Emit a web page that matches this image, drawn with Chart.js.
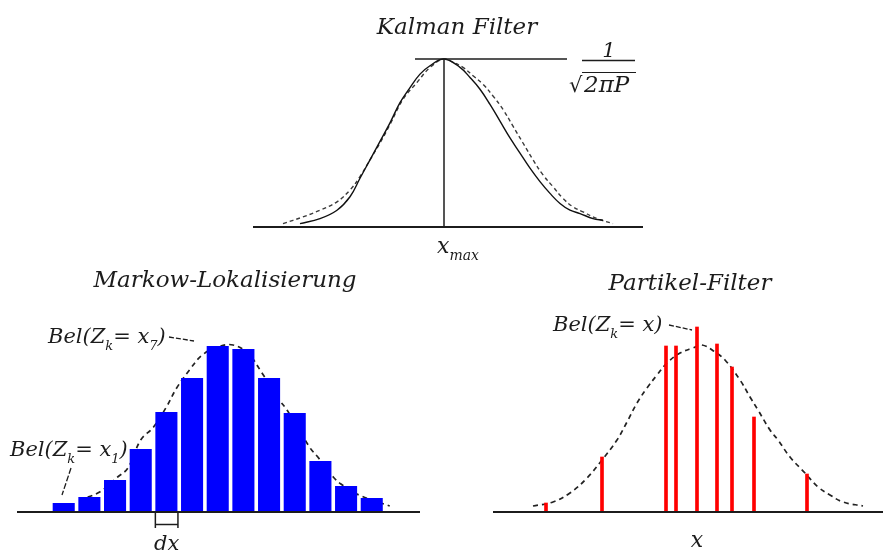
<!DOCTYPE html>
<html>
<head>
<meta charset="utf-8">
<script src="https://cdn.jsdelivr.net/npm/chart.js@4.4.1/dist/chart.umd.min.js"></script>
<style>
  html, body { margin: 0; padding: 0; background: #fff; }
  #wrap { position: relative; width: 883px; height: 557px; }
  #wrap canvas { position: absolute; left: 0; top: 0; }
</style>
</head>
<body>
<div id="wrap">
  <canvas id="kalman" width="883" height="557"></canvas>
  <canvas id="markow" width="883" height="557"></canvas>
  <canvas id="partikel" width="883" height="557"></canvas>
</div>
<script>
// Kalman filter: x around x_max, y relative to the peak 1/sqrt(2 pi P)
const kalmanSolidX = [-14.4, -12.4, -10.7, -9.4, -8.4, -7.4, -6.4, -5.4, -4.4, -3.4, -2.4, -1.4, 0, 1.6, 2.6, 3.6, 4.6, 5.6, 6.6, 7.6, 8.6, 9.6, 10.6, 11.6, 12.6, 13.6, 14.9, 15.9];
const kalmanSolidY = [0.02, 0.05, 0.10, 0.18, 0.29, 0.40, 0.51, 0.62, 0.74, 0.83, 0.91, 0.96, 1.0, 0.95, 0.89, 0.82, 0.73, 0.63, 0.53, 0.44, 0.35, 0.27, 0.20, 0.14, 0.10, 0.08, 0.05, 0.04];
const kalmanDashX = [-16.1, -14.1, -12.4, -10.7, -9.4, -8.4, -7.4, -6.4, -5.4, -4.1, -2.7, -1.4, 0, 0.9, 1.9, 2.9, 3.9, 4.9, 5.9, 6.9, 7.9, 8.9, 9.9, 10.9, 11.9, 12.9, 13.9, 15.3, 16.9];
const kalmanDashY = [0.02, 0.06, 0.10, 0.15, 0.22, 0.30, 0.40, 0.50, 0.61, 0.76, 0.86, 0.95, 1.0, 0.98, 0.95, 0.90, 0.85, 0.78, 0.70, 0.60, 0.50, 0.40, 0.31, 0.24, 0.17, 0.12, 0.09, 0.05, 0.02];

// Markow-Lokalisierung: grid cells x1..x13, belief in %
const markowCells = [1, 2, 3, 4, 5, 6, 7, 8, 9, 10, 11, 12, 13];
const markowBel = [0.9, 1.5, 3.2, 6.3, 10.0, 13.4, 16.6, 16.3, 13.4, 9.9, 5.1, 2.6, 1.4];
const markowCurveX = [1.6, 2.4, 3.1, 3.5, 4.0, 4.5, 5.0, 5.4, 5.9, 6.4, 7.0, 7.6, 8.2, 8.7, 9.4, 9.7, 10.6, 10.9, 11.5, 11.8, 12.5, 13.7];
const markowCurveY = [1.2, 2.0, 3.5, 4.4, 7.2, 8.5, 10.5, 12.4, 14.2, 15.7, 16.5, 16.7, 15.8, 14.0, 11.2, 10.2, 6.4, 5.5, 3.5, 2.8, 1.7, 0.6];

// Partikel-Filter: particle positions and weights
const particleX = [-15.1, -9.5, -3.1, -2.1, 0, 2.0, 3.5, 5.7, 11.0];
const particleW = [0.9, 5.5, 16.6, 16.6, 18.5, 16.8, 14.5, 9.5, 3.8];
const partCurveX = [-16.4, -14.4, -12.7, -11.0, -9.5, -8.0, -7.0, -6.0, -5.0, -4.0, -3.0, -1.7, -0.4, 0.5, 1.8, 2.8, 4.3, 5.3, 6.1, 7.3, 8.1, 9.3, 10.8, 12.1, 13.3, 14.6, 16.6];
const partCurveY = [0.6, 1.0, 1.9, 3.4, 5.2, 7.2, 9.0, 10.9, 12.4, 13.7, 14.9, 15.9, 16.4, 16.7, 16.0, 15.2, 13.2, 11.5, 10.2, 8.2, 7.2, 5.5, 3.9, 2.5, 1.7, 1.0, 0.6];

const pts = (xs, ys) => xs.map((x, i) => ({ x: x, y: ys[i] }));
const FONT = '"DejaVu Serif", serif';
const INK = '#1c1c1c';

function seg(ctx, x1, y1, x2, y2, w, dash) {
  ctx.save();
  ctx.strokeStyle = INK;
  ctx.lineWidth = w;
  ctx.setLineDash(dash || []);
  ctx.beginPath();
  ctx.moveTo(x1, y1);
  ctx.lineTo(x2, y2);
  ctx.stroke();
  ctx.restore();
}

function baseline(chart) {
  const { ctx, chartArea, scales } = chart;
  const py = scales.y.getPixelForValue(0);
  seg(ctx, chartArea.left, py, chartArea.right, py, 2);
}

// text with subscripts: parts = [[text, isSub], ...]
function rich(ctx, parts, x, y, size, align) {
  ctx.save();
  ctx.fillStyle = INK;
  ctx.textBaseline = 'alphabetic';
  ctx.textAlign = 'left';
  let total = 0;
  for (const p of parts) {
    ctx.font = 'italic ' + (p[1] ? Math.round(size * 0.62) : size) + 'px ' + FONT;
    total += ctx.measureText(p[0]).width;
  }
  let cx = align === 'center' ? x - total / 2 : x;
  for (const p of parts) {
    ctx.font = 'italic ' + (p[1] ? Math.round(size * 0.62) : size) + 'px ' + FONT;
    ctx.fillText(p[0], cx, y + (p[1] ? size * 0.33 : 0));
    cx += ctx.measureText(p[0]).width;
  }
  ctx.restore();
}

const hidden = { display: false };

// ---------- Kalman Filter ----------
new Chart(document.getElementById('kalman'), {
  type: 'line',
  data: {
    datasets: [
      {
        data: pts(kalmanSolidX, kalmanSolidY),
        borderColor: '#111',
        borderWidth: 1.4,
        pointRadius: 0,
        tension: 0.4
      },
      {
        data: pts(kalmanDashX, kalmanDashY),
        borderColor: '#3a3a3a',
        borderWidth: 1.4,
        borderDash: [4, 3],
        pointRadius: 0,
        tension: 0.4
      }
    ]
  },
  options: {
    responsive: false,
    animation: false,
    layout: { padding: { left: 253, right: 240, top: 42.2, bottom: 330 } },
    scales: {
      x: { type: 'linear', min: -19.1, max: 19.9, display: false },
      y: { min: 0, max: 1.1, display: false }
    },
    plugins: { legend: hidden, tooltip: { enabled: false } }
  },
  plugins: [{
    id: 'kalmanDeco',
    afterDatasetsDraw(chart) {
      const { ctx, scales: { x, y } } = chart;
      baseline(chart);
      const x0 = x.getPixelForValue(0);
      const yTop = y.getPixelForValue(1);
      seg(ctx, x0, y.getPixelForValue(0), x0, yTop, 1.5);
      seg(ctx, x.getPixelForValue(-2.9), yTop, x.getPixelForValue(12.3), yTop, 1.5);

      rich(ctx, [['Kalman Filter', false]], x0 + 13, 34, 23, 'center');
      rich(ctx, [['x', false], ['max', true]], x0 - 7, 253, 22, 'left');

      // 1 / sqrt(2 pi P)
      ctx.save();
      ctx.fillStyle = INK;
      ctx.textAlign = 'center';
      ctx.font = 'italic 21px ' + FONT;
      ctx.fillText('1', 609, 57);
      ctx.restore();
      seg(ctx, 582, 60.5, 635, 60.5, 1.5);
      ctx.save();
      ctx.fillStyle = INK;
      ctx.font = '21px ' + FONT;
      ctx.fillText('\u221A', 569, 92);
      ctx.font = 'italic 23px ' + FONT;
      ctx.fillText('2\u03C0P', 584, 92);
      ctx.restore();
      seg(ctx, 582, 72.5, 636, 72.5, 1.2);
    }
  }]
});

// ---------- Markow-Lokalisierung ----------
new Chart(document.getElementById('markow'), {
  type: 'bar',
  data: {
    datasets: [
      {
        type: 'bar',
        data: pts(markowCells, markowBel),
        backgroundColor: '#0000ff',
        borderWidth: 0,
        barPercentage: 0.86,
        categoryPercentage: 1.0
      },
      {
        type: 'line',
        data: pts(markowCurveX, markowCurveY),
        borderColor: '#222',
        borderWidth: 1.7,
        borderDash: [5, 4],
        pointRadius: 0,
        tension: 0.4
      }
    ]
  },
  options: {
    responsive: false,
    animation: false,
    layout: { padding: { left: 17, right: 463, top: 312, bottom: 45 } },
    scales: {
      x: { type: 'linear', offset: false, min: -0.82, max: 14.88, display: false },
      y: { min: 0, max: 20, display: false }
    },
    plugins: { legend: hidden, tooltip: { enabled: false } }
  },
  plugins: [{
    id: 'markowDeco',
    afterDatasetsDraw(chart) {
      const { ctx, scales: { x, y } } = chart;
      baseline(chart);
      const y0 = y.getPixelForValue(0);

      // dx bracket under cell 5
      const l = x.getPixelForValue(5 - 0.43), r = x.getPixelForValue(5 + 0.45);
      seg(ctx, l, y0, l, y0 + 16, 1.5);
      seg(ctx, r, y0, r, y0 + 16, 1.5);
      seg(ctx, l, y0 + 12.5, r, y0 + 12.5, 1.5);
      rich(ctx, [['dx', false]], (l + r) / 2, 550, 21, 'center');

      rich(ctx, [['Markow-Lokalisierung', false]], 225, 287, 23, 'center');

      rich(ctx, [['Bel(Z', false], ['k', true], ['= x', false], ['7', true], [')', false]], 48, 343, 21, 'left');
      seg(ctx, 169, 337, 194, 341, 1.3, [5, 2]);

      rich(ctx, [['Bel(Z', false], ['k', true], ['= x', false], ['1', true], [')', false]], 10, 456, 21, 'left');
      seg(ctx, 71, 468, 62, 495, 1.3, [6, 2]);
    }
  }]
});

// ---------- Partikel-Filter ----------
new Chart(document.getElementById('partikel'), {
  type: 'bar',
  data: {
    datasets: [
      {
        type: 'bar',
        data: pts(particleX, particleW),
        backgroundColor: '#ff0000',
        borderWidth: 0,
        barThickness: 3
      },
      {
        type: 'line',
        data: pts(partCurveX, partCurveY),
        borderColor: '#222',
        borderWidth: 1.7,
        borderDash: [5, 4],
        pointRadius: 0,
        tension: 0.4
      }
    ]
  },
  options: {
    responsive: false,
    animation: false,
    layout: { padding: { left: 493, right: 0, top: 312, bottom: 45 } },
    scales: {
      x: { type: 'linear', offset: false, min: -20.4, max: 18.6, display: false },
      y: { min: 0, max: 20, display: false }
    },
    plugins: { legend: hidden, tooltip: { enabled: false } }
  },
  plugins: [{
    id: 'partikelDeco',
    afterDatasetsDraw(chart) {
      const { ctx, scales: { x } } = chart;
      baseline(chart);
      rich(ctx, [['Partikel-Filter', false]], 690, 290, 23, 'center');
      rich(ctx, [['x', false]], x.getPixelForValue(0), 547, 22, 'center');
      rich(ctx, [['Bel(Z', false], ['k', true], ['= x)', false]], 553, 331, 21, 'left');
      seg(ctx, 669, 325, 692, 330, 1.3, [5, 2]);
    }
  }]
});
</script>
</body>
</html>
